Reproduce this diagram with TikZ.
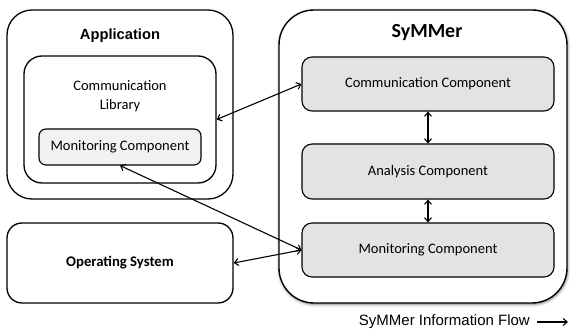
\documentclass[tikz,border=0pt]{standalone}
\usepackage{fontspec}
\setmainfont{Carlito}
\newfontfamily\arialfont{Liberation Sans}
\usetikzlibrary{arrows.meta,shadows.blur}

\begin{document}
\begin{tikzpicture}[x=1pt,y=-1pt,
  frame/.style={draw, line width=1.3pt, inner sep=0pt},
  comp/.style={frame, line width=1.1pt, fill=black!11, rounded corners=10pt,
    minimum width=252pt, minimum height=54pt, font=\fontsize{14.5}{17}\selectfont},
  title/.style={inner sep=0pt, font=\fontsize{14.7}{17}\selectfont\bfseries},
  flow/.style={line width=1.1pt, {Straight Barb[length=4pt,width=7pt]}-{Straight Barb[length=4pt,width=7pt]}}
]
\useasboundingbox (0,0) rectangle (574,336);

% application side
\node[frame, rounded corners=25pt, minimum width=226pt, minimum height=189pt] (app) at (120,104.5) {};
\node[title, font=\fontsize{14.7}{17}\selectfont\arialfont\bfseries] (apptitle) at (120,36) {Application};
\node[frame, rounded corners=18pt, minimum width=192pt, minimum height=127pt] (lib) at (120,119.5) {};
\node[inner sep=0pt, align=center, font=\fontsize{14.5}{19}\selectfont] (libtext) at (120,96) {Communication\\Library};
\node[frame, line width=1.1pt, fill=black!5, rounded corners=7pt, minimum width=162pt, minimum height=36pt,
  font=\fontsize{14.5}{17}\selectfont] (mi) at (120,147) {Monitoring Component};

% operating system
\node[frame, rounded corners=15pt, minimum width=226pt, minimum height=80pt] (os) at (120,263) {};
\node[title] (ostitle) at (120,263) {Operating System};

% SyMMer
\node[frame, line width=1.4pt, fill=white, rounded corners=35pt, minimum width=288pt, minimum height=293pt,
  blur shadow={shadow xshift=0.6pt, shadow yshift=-1.2pt, shadow blur radius=3pt, shadow opacity=55}] (sym) at (423,156.5) {};
\node[title, font=\fontsize{20}{24}\selectfont\bfseries] (symtitle) at (427,33) {SyMMer};
\node[comp] (cc) at (428,84) {Communication Component};
\node[comp, minimum height=55pt] (an) at (428,171.5) {Analysis Component};
\node[comp] (mon) at (428,250) {Monitoring Component};

% information flow
\draw[flow] (lib.east) -- (cc.west);
\draw[flow] (mi.south) -- (mon.west);
\draw[flow] (os.east) -- (mon.west);
\draw[flow] (cc.south) -- (an.north);
\draw[flow] (an.south) -- (mon.north);

% legend
\node[inner sep=0pt, anchor=east, font=\fontsize{15}{18}\selectfont\arialfont] (legend) at (530,322) {SyMMer Information Flow};
\coordinate (flowend) at (568,322);
\draw[line width=1.1pt, -{Straight Barb[length=4pt,width=7pt]}] ([xshift=7pt]legend.east) -- (flowend);
\end{tikzpicture}
\end{document}
